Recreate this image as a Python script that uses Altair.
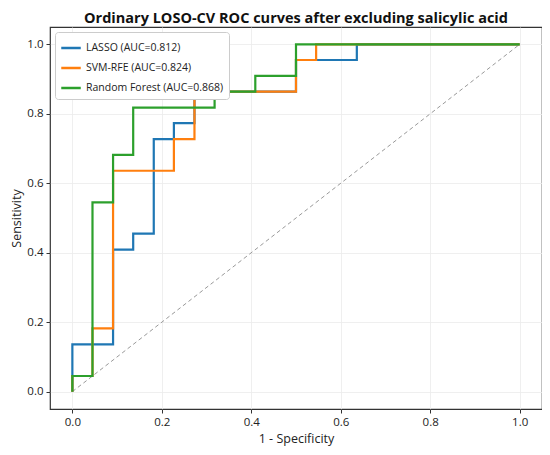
import altair as alt
import pandas as pd

# ROC curve vertices (1 - specificity, sensitivity)
lasso_fpr = [0.0, 0.0, 0.091, 0.091, 0.136, 0.136, 0.182, 0.182, 0.227, 0.227, 0.273, 0.273, 0.5, 0.5, 0.636, 0.636, 1.0]
lasso_tpr = [0.0, 0.136, 0.136, 0.409, 0.409, 0.455, 0.455, 0.727, 0.727, 0.773, 0.773, 0.864, 0.864, 0.955, 0.955, 1.0, 1.0]

svm_fpr = [0.0, 0.0, 0.045, 0.045, 0.091, 0.091, 0.227, 0.227, 0.273, 0.273, 0.5, 0.5, 0.545, 0.545, 1.0]
svm_tpr = [0.0, 0.045, 0.045, 0.182, 0.182, 0.636, 0.636, 0.727, 0.727, 0.864, 0.864, 0.955, 0.955, 1.0, 1.0]

rf_fpr = [0.0, 0.0, 0.045, 0.045, 0.091, 0.091, 0.136, 0.136, 0.318, 0.318, 0.409, 0.409, 0.5, 0.5, 1.0]
rf_tpr = [0.0, 0.045, 0.045, 0.545, 0.545, 0.682, 0.682, 0.818, 0.818, 0.864, 0.864, 0.909, 0.909, 1.0, 1.0]

series_names = ["LASSO (AUC=0.812)", "SVM-RFE (AUC=0.824)", "Random Forest (AUC=0.868)"]
series_colors = ["#1f77b4", "#ff7f0e", "#2ca02c"]

diag_x = [0.0, 1.0]
diag_y = [0.0, 1.0]

tick_vals = [0.0, 0.2, 0.4, 0.6, 0.8, 1.0]

rows = []
for name, fx, ty in zip(series_names, [lasso_fpr, svm_fpr, rf_fpr], [lasso_tpr, svm_tpr, rf_tpr]):
    for i, (a, b) in enumerate(zip(fx, ty)):
        rows.append({"model": name, "fpr": a, "tpr": b, "idx": i})
df = pd.DataFrame(rows)
diag = pd.DataFrame({"fpr": diag_x, "tpr": diag_y})

FONT = "Open Sans"

xscale = alt.Scale(domain=[-0.05, 1.05], nice=False, zero=False)
yscale = alt.Scale(domain=[-0.05, 1.05], nice=False, zero=False)

xaxis = alt.Axis(title="1 - Specificity", values=tick_vals, format=".1f", titlePadding=5)
yaxis = alt.Axis(title="Sensitivity", values=tick_vals, format=".1f", titlePadding=3)

diag_line = alt.Chart(diag).mark_line(
    color="#999999", strokeDash=[4, 3], strokeWidth=1
).encode(
    x=alt.X("fpr:Q", scale=xscale, axis=xaxis),
    y=alt.Y("tpr:Q", scale=yscale, axis=yaxis),
)

curves = alt.Chart(df).mark_line(strokeWidth=2.2, strokeJoin="miter", strokeCap="butt").encode(
    x=alt.X("fpr:Q", scale=xscale, axis=xaxis),
    y=alt.Y("tpr:Q", scale=yscale, axis=yaxis),
    color=alt.Color(
        "model:N",
        scale=alt.Scale(domain=series_names, range=series_colors),
        sort=series_names,
        legend=alt.Legend(
            title=None,
            orient="top-left",
            symbolType="stroke",
            symbolStrokeWidth=2.5,
            symbolSize=380,
            labelFont=FONT,
            labelFontSize=10.5,
            labelColor="#222222",
            padding=5,
            offset=5,
            rowPadding=3,
            strokeColor="#cccccc",
            fillColor="white",
            cornerRadius=3,
        ),
    ),
    order="idx:Q",
)

chart = alt.layer(diag_line, curves).properties(
    width=492,
    height=382,
    background="white",
    padding={"left": 2, "top": 2, "right": 0, "bottom": 2},
    title=alt.TitleParams(
        "Ordinary LOSO-CV ROC curves after excluding salicylic acid",
        font=FONT,
        fontSize=14.5,
        fontWeight="bold",
        color="#111111",
        offset=1,
    ),
).configure_view(
    stroke="#333333", strokeWidth=1.2
).configure_axis(
    labelFont=FONT,
    titleFont=FONT,
    labelFontSize=11.5,
    titleFontSize=12.5,
    titleFontWeight="normal",
    labelColor="#222222",
    titleColor="#222222",
    grid=True,
    gridColor="#ebebeb",
    gridWidth=0.8,
    domain=False,
    tickColor="#333333",
    tickSize=4,
    labelPadding=3,
)

chart.save("out.html", embed_options={"renderer": "svg", "actions": False})
